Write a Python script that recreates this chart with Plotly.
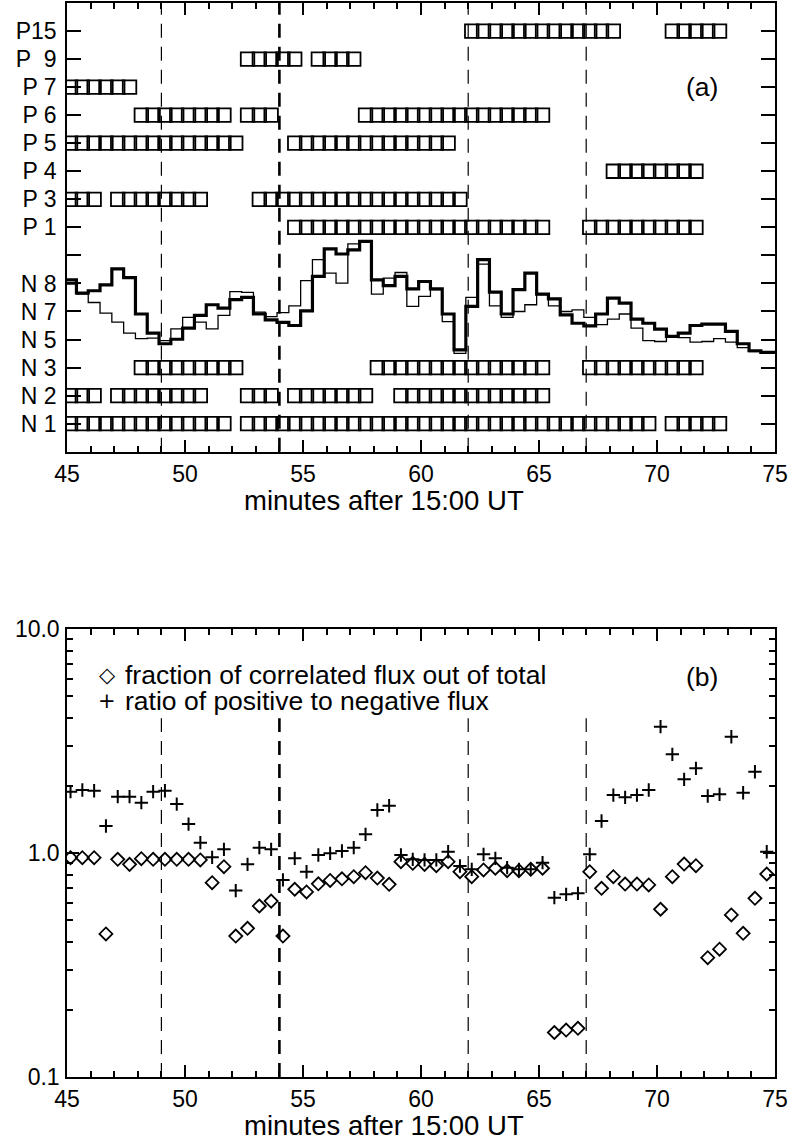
import plotly.graph_objects as go

# ---------------- data ----------------
# sample times (minutes after 15:00 UT), 30 s cadence
TIMES = [45.15, 45.65, 46.15, 46.65, 47.15, 47.65, 48.15, 48.65, 49.15, 49.65,
         50.15, 50.65, 51.15, 51.65, 52.15, 52.65, 53.15, 53.65, 54.15, 54.65,
         55.15, 55.65, 56.15, 56.65, 57.15, 57.65, 58.15, 58.65, 59.15, 59.65,
         60.15, 60.65, 61.15, 61.65, 62.15, 62.65, 63.15, 63.65, 64.15, 64.65,
         65.15, 65.65, 66.15, 66.65, 67.15, 67.65, 68.15, 68.65, 69.15, 69.65,
         70.15, 70.65, 71.15, 71.65, 72.15, 72.65, 73.15, 73.65, 74.15, 74.65,
         75.15]

# panel (a) row labels (row position 1..15)
ROW_LABELS = ["N 1", "N 2", "N 3", "N 5", "N 7", "N 8", "",
              "P 1", "P 3", "P 4", "P 5", "P 6", "P 7", "P\u20079", "P15"]

# runs of sample indices (first, last) where each flux element is present
RUNS = {
    "N 1": [(0, 13), (15, 49), (51, 55)],
    "N 2": [(0, 2), (4, 11), (15, 17), (19, 25), (28, 40)],
    "N 3": [(6, 14), (26, 40), (44, 53)],
    "P 1": [(19, 40), (44, 53)],
    "P 3": [(0, 2), (4, 11), (16, 33)],
    "P 4": [(46, 53)],
    "P 5": [(0, 14), (19, 32)],
    "P 6": [(6, 13), (15, 17), (25, 40)],
    "P 7": [(0, 5)],
    "P\u20079": [(15, 19), (21, 24)],
    "P15": [(34, 46), (51, 55)],
}

# two histogram curves in panel (a) (in row units)
THICK = [6.13, 5.66, 5.74, 5.95, 6.52, 6.21, 4.91, 4.23, 3.85, 4.01,
         4.41, 4.86, 5.24, 5.12, 5.42, 5.50, 4.91, 4.70, 4.61, 4.50,
         5.02, 6.25, 7.23, 7.05, 7.20, 7.50, 6.13, 5.92, 6.25, 5.81,
         6.07, 5.81, 4.91, 3.63, 5.18, 6.85, 5.69, 4.91, 5.78, 6.37,
         5.62, 5.45, 4.88, 4.58, 4.49, 4.91, 5.48, 5.30, 4.73, 4.58,
         4.37, 4.11, 4.23, 4.50, 4.55, 4.55, 4.29, 3.85, 3.60, 3.54, 3.54]
THIN = [5.98, 5.62, 5.32, 4.94, 4.62, 4.23, 4.03, 4.05, 3.96, 4.38,
        4.79, 4.62, 4.38, 4.86, 5.71, 5.68, 4.98, 4.82, 4.96, 5.20,
        6.10, 6.85, 6.37, 6.01, 7.41, 7.50, 5.62, 6.19, 6.39, 5.18,
        5.54, 5.78, 4.64, 3.51, 5.50, 6.69, 5.20, 4.79, 5.00, 5.24,
        5.60, 5.20, 5.00, 5.06, 4.79, 4.53, 4.73, 4.91, 4.41, 3.96,
        3.93, 4.11, 4.07, 3.91, 3.93, 4.03, 3.91, 3.71, 3.57, 3.51, 3.57]

# panel (b)
FRACTION = [0.953, 0.953, 0.953, 0.435, 0.937, 0.890, 0.943, 0.937, 0.937, 0.937,
            0.937, 0.931, 0.737, 0.869, 0.426, 0.461, 0.580, 0.610, 0.426, 0.689,
            0.670, 0.729, 0.754, 0.767, 0.784, 0.817, 0.773, 0.725, 0.915, 0.900,
            0.890, 0.878, 0.915, 0.825, 0.784, 0.840, 0.855, 0.834, 0.834, 0.846,
            0.855, 0.158, 0.162, 0.165, 0.825, 0.696, 0.784, 0.727, 0.727, 0.720,
            0.561, 0.784, 0.893, 0.878, 0.341, 0.372, 0.529, 0.438, 0.628, 0.806]
RATIO = [1.878, 1.911, 1.897, 1.320, 1.784, 1.784, 1.677, 1.878, 1.897, 1.654,
         1.347, 1.112, 0.957, 1.039, 0.680, 0.890, 1.056, 1.039, 0.758, 0.947,
         0.825, 0.980, 0.997, 1.021, 1.056, 1.212, 1.556, 1.626, 0.980, 0.937,
         0.931, 0.931, 1.013, 0.875, 0.846, 0.987, 0.947, 0.860, 0.846, 0.846,
         0.905, 0.632, 0.654, 0.661, 0.987, 1.390, 1.815, 1.773, 1.815, 1.911,
         3.664, 2.758, 2.133, 2.388, 1.797, 1.828, 3.305, 1.858, 2.306, 1.013]

EVENT_TIMES = [49, 54, 62, 67]
EVENT_WIDTH = [1.2, 2.6, 1.2, 1.2]
B_DASH_TOP = 4.0

X_TICKS = [45, 50, 55, 60, 65, 70, 75]
B_TICKS = [0.1, 1.0, 10.0]
B_TICKTEXT = ["0.1", "1.0", "10.0"]
B_MINOR = [0.2, 0.3, 0.4, 0.5, 0.6, 0.7, 0.8, 0.9, 2, 3, 4, 5, 6, 7, 8, 9]
X_TITLE = "minutes after 15:00 UT"

FONT = "Liberation Sans, Arial, Helvetica, sans-serif"
TICK_SIZE = 23
TEXT_SIZE = 26.5
TITLE_SIZE = 27.5

fig = go.Figure()

# ---- panel (a) ----
for e, w in zip(EVENT_TIMES, EVENT_WIDTH):
    fig.add_trace(go.Scatter(x=[e, e], y=[0, 16], mode="lines", xaxis="x", yaxis="y",
                             line=dict(color="black", width=w, dash="14px,9px"),
                             showlegend=False, hoverinfo="skip"))

n = len(THICK)
half = (TIMES[1] - TIMES[0]) / 2
edges = [t - half for t in TIMES[:n]] + [TIMES[n - 1] + half]
fig.add_trace(go.Scatter(x=edges, y=THIN + [THIN[-1]], mode="lines", line_shape="hv",
                         line=dict(color="black", width=1.3), xaxis="x", yaxis="y",
                         showlegend=False))
fig.add_trace(go.Scatter(x=edges, y=THICK + [THICK[-1]], mode="lines", line_shape="hv",
                         line=dict(color="black", width=3.2), xaxis="x", yaxis="y",
                         showlegend=False))

for pos, lab in enumerate(ROW_LABELS, start=1):
    if lab not in RUNS:
        continue
    xs = [TIMES[k] for a, b in RUNS[lab] for k in range(a, b + 1)]
    fig.add_trace(go.Scatter(x=xs, y=[pos] * len(xs), mode="markers", xaxis="x", yaxis="y",
                             marker=dict(symbol="square-open", size=13.5, color="black",
                                         line=dict(width=1.8, color="black")),
                             showlegend=False))

# ---- panel (b) ----
for e, w in zip(EVENT_TIMES, EVENT_WIDTH):
    fig.add_trace(go.Scatter(x=[e, e], y=[0.1, B_DASH_TOP], mode="lines", xaxis="x2", yaxis="y2",
                             line=dict(color="black", width=w, dash="14px,9px"),
                             showlegend=False, hoverinfo="skip"))

nb = len(FRACTION)
fig.add_trace(go.Scatter(x=TIMES[:nb], y=FRACTION, mode="markers", xaxis="x2", yaxis="y2",
                         marker=dict(symbol="diamond-open", size=10, color="black",
                                     line=dict(width=1.8, color="black")),
                         name="fraction of correlated flux out of total", showlegend=False))
fig.add_trace(go.Scatter(x=TIMES[:nb], y=RATIO, mode="markers", xaxis="x2", yaxis="y2",
                         marker=dict(symbol="cross-thin-open", size=9.5, color="black",
                                     line=dict(width=2, color="black")),
                         name="ratio of positive to negative flux", showlegend=False))

axis_common = dict(showline=True, linecolor="black", linewidth=1.5, mirror="ticks",
                   ticks="inside", tickcolor="black", tickwidth=1.5,
                   showgrid=False, zeroline=False, automargin=False,
                   tickfont=dict(family=FONT, size=TICK_SIZE, color="black"))

xcommon = dict(axis_common, range=[45, 75], tickmode="array", tickvals=X_TICKS, ticklen=12,
               minor=dict(dtick=1, tick0=45, ticklen=6, tickwidth=1.5, tickcolor="black",
                          ticks="inside", showgrid=False),
               ticklabelstandoff=1)

fig.update_layout(
    width=793, height=1146,
    margin=dict(l=67, r=18, t=3, b=69, autoexpand=False),
    plot_bgcolor="white", paper_bgcolor="white",
    font=dict(family=FONT, size=TICK_SIZE, color="black"),
    xaxis=dict(xcommon, domain=[0, 1], anchor="y"),
    yaxis=dict(axis_common, domain=[0.5822, 1.0], anchor="x", range=[0, 16],
               tickmode="array", tickvals=list(range(1, len(ROW_LABELS) + 1)),
               ticktext=ROW_LABELS, ticklen=14, ticklabelstandoff=4),
    xaxis2=dict(xcommon, domain=[0, 1], anchor="y2"),
    yaxis2=dict(axis_common, domain=[0, 0.4171], anchor="x2", type="log", range=[-1, 1],
                tickmode="array", tickvals=B_TICKS, ticktext=B_TICKTEXT, ticklen=12,
                minor=dict(tickmode="array", tickvals=B_MINOR, ticklen=6, tickwidth=1.5,
                           tickcolor="black", ticks="inside", showgrid=False),
                ticklabelstandoff=1),
)

# panel labels, axis titles and legend text
def px_x(p):
    return (p - 67) / 708.0

def px_y(p):
    return (1077 - p) / 1074.0

for yy in (500, 1125):
    fig.add_annotation(text=X_TITLE, x=px_x(384), y=px_y(yy), xref="paper", yref="paper",
                       showarrow=False, xanchor="center", yanchor="middle",
                       font=dict(family=FONT, size=TITLE_SIZE, color="black"))

fig.add_annotation(text="(a)", x=px_x(720), y=px_y(70), xref="paper", yref="paper",
                   showarrow=False, font=dict(family=FONT, size=TEXT_SIZE, color="black"))
fig.add_annotation(text="(b)", x=px_x(720), y=px_y(677), xref="paper", yref="paper",
                   showarrow=False, font=dict(family=FONT, size=TEXT_SIZE, color="black"))
LEGEND = [("\u25C7", "fraction of correlated flux out of total", 675),
          ("+", "ratio of positive to negative flux", 701)]
for sym, txt, yy in LEGEND:
    fig.add_annotation(text=sym, x=px_x(107), y=px_y(yy), xref="paper", yref="paper",
                       showarrow=False, xanchor="center",
                       font=dict(family="DejaVu Sans", size=21, color="black"))
    fig.add_annotation(text=txt, x=px_x(123), y=px_y(yy), xref="paper", yref="paper",
                       showarrow=False, xanchor="left",
                       font=dict(family=FONT, size=TEXT_SIZE, color="black"))

fig.write_html("out.html", config={"displayModeBar": False},
               post_script="document.body.style.margin='0';"
                           "document.documentElement.style.overflow='hidden';")
